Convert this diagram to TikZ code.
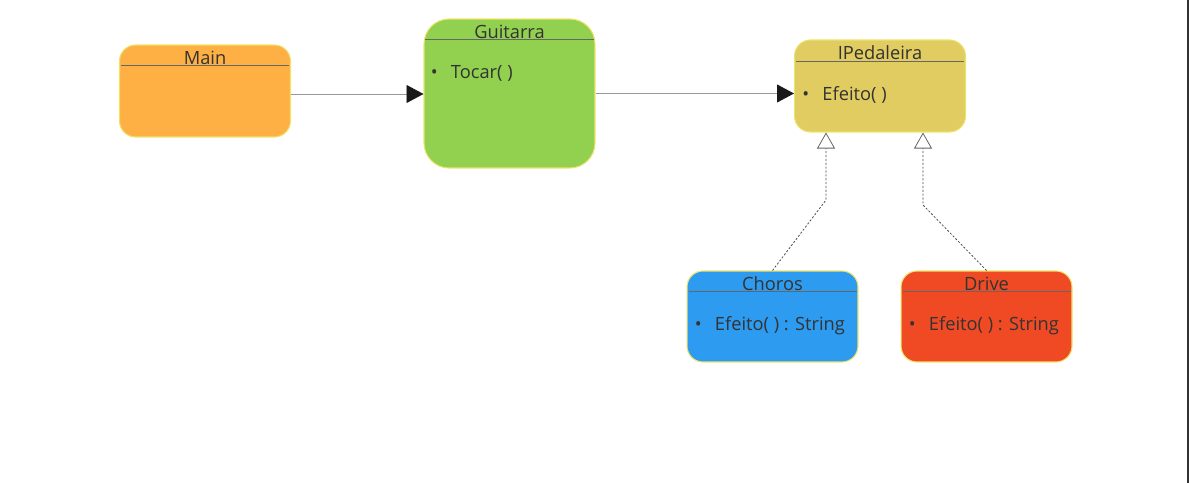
\documentclass[tikz,border=0pt]{standalone}
\usepackage{fontspec}
\setmainfont{Open Sans}
\usetikzlibrary{arrows.meta,calc,positioning}
\definecolor{mainc}{HTML}{FFB045}
\definecolor{guitc}{HTML}{92D050}
\definecolor{pedc}{HTML}{E0CC60}
\definecolor{choc}{HTML}{2D9BF0}
\definecolor{drvc}{HTML}{F04A25}
\definecolor{edgec}{HTML}{EDE36A}
\definecolor{txtc}{HTML}{333333}
\def\bw{3.42cm}
\def\bh{1.84cm}

\begin{document}
\begin{tikzpicture}[x=0.02cm, y=-0.02cm,
    cls/.style={draw=edgec, line width=0.6pt, rounded corners=0.32cm, minimum width=\bw, minimum height=\bh, inner sep=0pt},
    ttl/.style={text=txtc, font=\fontsize{10.4}{12}\selectfont, inner sep=0pt},
    item/.style={text=txtc, font=\fontsize{10.4}{12}\selectfont, inner sep=0pt, anchor=west},
    hdr/.style={draw=black!60, line width=0.45pt},
    assoc/.style={draw=black!40, line width=0.5pt, -{Triangle[length=0.34cm, width=0.36cm, color=black!90]}},
    impl/.style={draw=black!70, line width=0.45pt, dash pattern=on 1.2pt off 1pt, -{Triangle[open, length=0.32cm, width=0.36cm, fill=white, color=black!60]}}]
  \useasboundingbox (0,0) rectangle (1189,483);

    % classes
  \node[cls, fill=mainc] (main) at (205,91) {};
  \node[cls, fill=guitc, minimum height=2.98cm, rounded corners=0.5cm] (guit) at (509.5,93.5) {};
  \node[cls, fill=pedc] (ped) at (880,86) {};
  \node[cls, fill=choc, minimum height=1.82cm] (cho) at (772.5,316.5) {};
  \node[cls, fill=drvc, minimum height=1.82cm] (drv) at (986.5,316.5) {};

    % titles and header lines
  \foreach \n/\t/\d in {main/Main/21, guit/Guitarra/21, ped/IPedaleira/22, cho/Choros/21, drv/Drive/21}{
    \node[ttl] (\n T) at ($(\n.north)+(0,13)$) {\t};
    \draw[hdr] ($(\n.north west)+(2,\d)$) -- ($(\n.north east)+(-2,\d)$);
  }

    % members
  \node[item] (guitM) at ($(guit.north west)+(7,55)$) {\makebox[1.1em][l]{\textbullet}Tocar( )};
  \node[item] (pedM) at ($(ped.north west)+(8,55)$) {\makebox[1.1em][l]{\textbullet}Efeito( )};
  \node[item] (choM) at ($(cho.north west)+(8,55)$) {\makebox[1.1em][l]{\textbullet}Efeito( ) : String};
  \node[item] (drvM) at ($(drv.north west)+(8,55)$) {\makebox[1.1em][l]{\textbullet}Efeito( ) : String};

    % associations
  \draw[assoc] ($(main.east)+(0,3)$) -- ($(main.east -| guit.west)+(0,3)$);
  \draw[assoc] (guit.east) -- (guit.east -| ped.west);

    % realizations
  \coordinate (kc) at (826,200);
  \coordinate (kd) at (923,205);
  \draw[impl] (cho.north) -- (kc) -- (kc |- ped.south);
  \draw[impl] (drv.north) -- (kd) -- (kd |- ped.south);

  % window edge
  \draw[black!80, line width=0.8pt] (1188,0) -- (1188,483);
\end{tikzpicture}
\end{document}
